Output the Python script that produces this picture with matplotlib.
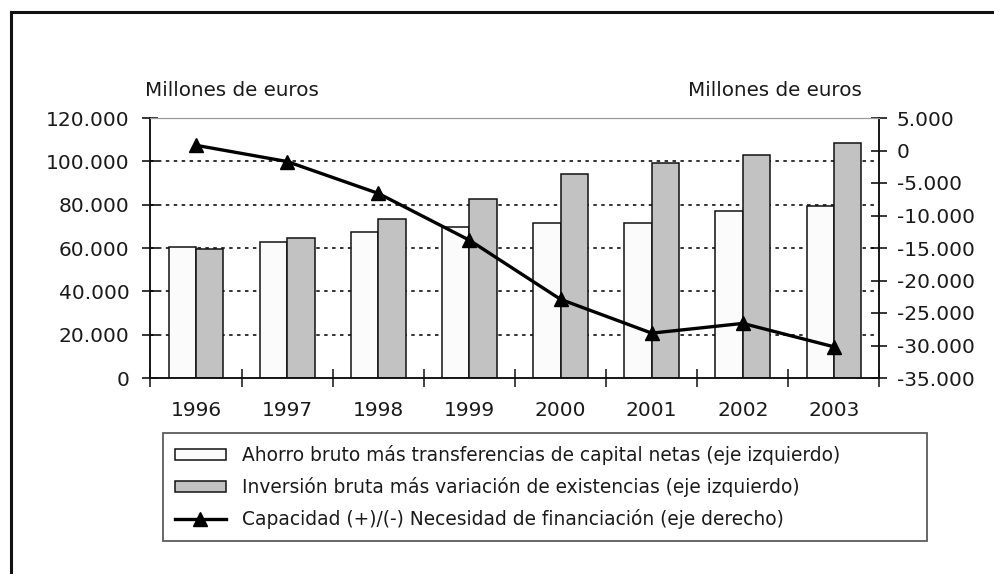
import matplotlib
matplotlib.use("Agg")
import matplotlib.pyplot as plt
from matplotlib.lines import Line2D
from matplotlib.ticker import FuncFormatter, FixedLocator
import numpy as np

# data (millones de euros)
years = ["1996", "1997", "1998", "1999", "2000", "2001", "2002", "2003"]
ahorro = [60300, 62900, 67400, 69800, 71400, 71400, 77100, 79400]
inversion = [59500, 64700, 73200, 82600, 94100, 99400, 102900, 108600]
capacidad = [800, -1700, -6600, -13800, -22900, -28100, -26600, -30200]

label_ahorro = "Ahorro bruto más transferencias de capital netas (eje izquierdo)"
label_inv = "Inversión bruta más variación de existencias (eje izquierdo)"
label_cap = "Capacidad (+)/(-) Necesidad de financiación (eje derecho)"

plt.rcParams['font.family'] = ['DejaVu Sans']
plt.rcParams['lines.scale_dashes'] = False
plt.rcParams['text.color'] = '#1a1a1a'
plt.rcParams['xtick.labelcolor'] = '#1a1a1a'
plt.rcParams['ytick.labelcolor'] = '#1a1a1a'

W, H = 995, 574
fig = plt.figure(figsize=(W / 100, H / 100), dpi=100)
ax = fig.add_axes([150.5 / W, (H - 378) / H, 729 / W, 260 / H])
ax2 = ax.twinx()

def miles(v, pos=None):
    return f"{v:,.0f}".replace(",", ".")

x = np.arange(len(years))
# white bar sits left of the category centre, grey bar right of it
ax.bar(x - 0.3, ahorro, width=0.3, align='edge', color='#fbfbfb', edgecolor='#111111',
       linewidth=1.1, label=label_ahorro, zorder=2)
ax.bar(x, inversion, width=0.3, align='edge', color='#c2c2c2', edgecolor='#111111',
       linewidth=1.1, label=label_inv, zorder=2)

ax.set_xlim(-0.5, len(years) - 0.5)
ax.set_ylim(0, 120000)
ax.set_yticks(np.arange(0, 120001, 20000))
ax.yaxis.set_major_formatter(FuncFormatter(miles))
for v in range(20000, 100001, 20000):
    ax.axhline(v, color='#111111', lw=1.2, ls=(0, (2.5, 3.2)), zorder=1)

ax.xaxis.set_major_locator(FixedLocator(np.arange(-0.5, len(years), 1.0)))
ax.xaxis.set_minor_locator(FixedLocator(x))
ax.set_xticklabels([], minor=False)
ax.set_xticklabels(years, minor=True)
ax.tick_params(axis='x', which='major', direction='inout', length=13, width=1.1, color='#111111')
ax.tick_params(axis='x', which='minor', length=0, pad=16.5, labelsize=14.5)
ax.tick_params(axis='y', direction='inout', length=11, width=1.1, pad=9.5, labelsize=14.5)

ax2.plot(x, capacidad, color='black', lw=2.4, marker='^', markersize=10,
         label=label_cap, zorder=3)
ax2.set_ylim(-35000, 5000)
ax2.set_yticks(np.arange(-35000, 5001, 5000))
ax2.yaxis.set_major_formatter(FuncFormatter(miles))
ax2.tick_params(axis='y', direction='inout', length=12, width=1.1, pad=6.5, labelsize=14.5)

for a in (ax, ax2):
    a.spines['top'].set_color('#999999')
    a.spines['top'].set_linewidth(0.8)
    for s in ('left', 'right', 'bottom'):
        a.spines[s].set_linewidth(1.1)
        a.spines[s].set_color('#111111')

fig.text(145 / W, 1 - 90 / H, "Millones de euros", fontsize=14.3, va='center', ha='left')
fig.text(862 / W, 1 - 90 / H, "Millones de euros", fontsize=14.3, va='center', ha='right')

h1, l1 = ax.get_legend_handles_labels()
h2, l2 = ax2.get_legend_handles_labels()
leg = fig.legend(h1 + h2, l1 + l2, loc='upper left',
                 bbox_to_anchor=(163 / W, 1 - 439 / H, 764 / W, 0.01), mode='expand',
                 fontsize=13.4, frameon=True, fancybox=False, edgecolor='#333333',
                 handlelength=2.75, handleheight=0.55, handletextpad=0.9,
                 labelspacing=0.66, borderpad=0.62, borderaxespad=0, numpoints=1)
leg.get_frame().set_linewidth(1.3)

# outer frame (only top and left edges visible in the source)
fig.add_artist(Line2D([11 / W, 1], [1 - 12 / H, 1 - 12 / H], color='#111111', lw=2.2))
fig.add_artist(Line2D([11 / W, 11 / W], [0, 1 - 12 / H], color='#111111', lw=2.2))

fig.savefig("out.png", dpi=100)
